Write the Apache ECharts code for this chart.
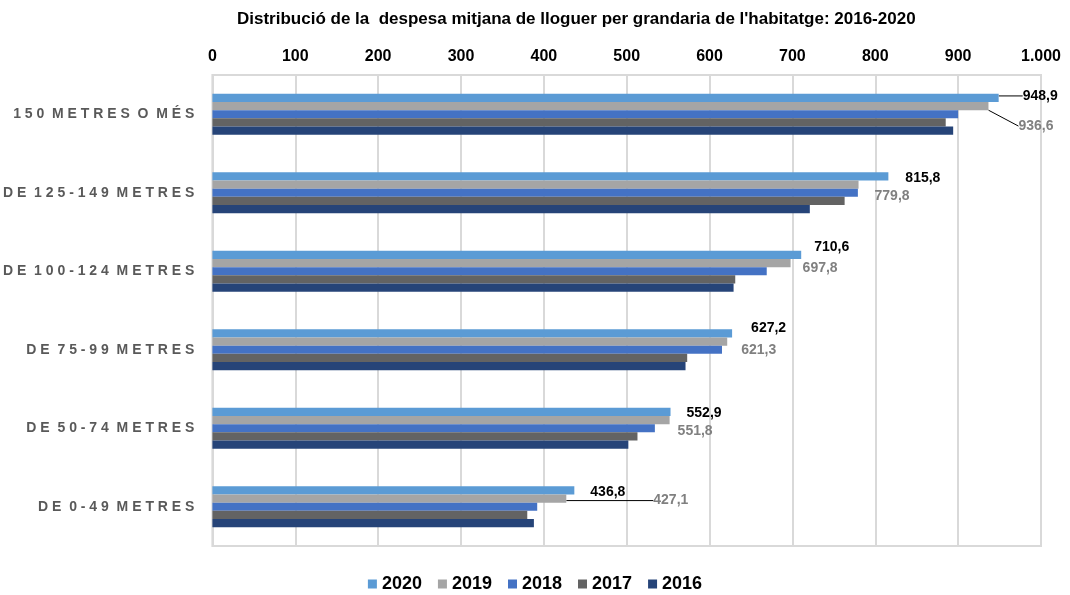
<!DOCTYPE html>
<html>
<head>
<meta charset="utf-8">
<script src="https://cdn.jsdelivr.net/npm/echarts@6/dist/echarts.min.js"></script>
<style>
  html, body { margin: 0; padding: 0; background: #fff; }
  #chart { width: 1070px; height: 595px; }
</style>
</head>
<body>
<div id="chart"></div>
<script>
const categories = ['150 METRES O MÉS', 'DE 125-149 METRES', 'DE 100-124 METRES', 'DE 75-99 METRES', 'DE 50-74 METRES', 'DE 0-49 METRES'];
const years = ['2020', '2019', '2018', '2017', '2016'];
const values2020 = [948.9, 815.8, 710.6, 627.2, 552.9, 436.8];
const values2019 = [936.6, 779.8, 697.8, 621.3, 551.8, 427.1];
const values2018 = [900, 779, 669, 615, 534, 392];
const values2017 = [885, 763, 631, 573, 513, 380];
const values2016 = [894, 721, 629, 571, 502, 388];

const colors = ['#5b9bd5', '#a5a5a5', '#4472c4', '#636363', '#264478'];
// label nudges (px) for the two labelled series
const labelShift = [
    [[19, -2], [12, 2], [8, -8], [14, -5], [11, 1], [11, 2]],
    [[25, 20], [11, 12], [7, 5], [9, 9], [3, 11], [82, 2]]
];
const withLeader = [[0], [0, 5]];

const fmtDec = v => v.toFixed(1).replace('.', ',');
const fmtThousands = v => String(v).replace(/\B(?=(\d{3})+(?!\d))/g, '.');
// Excel-like letter spacing on the category names
const spaced = s => s.split(' ').map(w => w.split('').join(' ')).join('  ');

const allValues = [values2020, values2019, values2018, values2017, values2016];

const chart = echarts.init(document.getElementById('chart'));

const series = years.map((y, i) => {
    const labelled = i < 2;
    return {
        name: y,
        type: 'bar',
        barGap: '0%',
        barCategoryGap: '48%',
        itemStyle: { color: colors[i] },
        data: allValues[i].map((v, j) => {
            const item = { value: v };
            if (labelled && withLeader[i].indexOf(j) >= 0) {
                item.labelLine = { show: true, lineStyle: { color: '#000', width: 1 } };
            }
            return item;
        }),
        label: {
            show: labelled,
            position: 'right',
            distance: 5,
            formatter: p => fmtDec(p.value),
            fontFamily: 'Liberation Sans, Arial, sans-serif',
            fontWeight: 'bold',
            fontSize: 14,
            color: i === 0 ? '#000' : '#808080'
        },
        labelLayout: labelled ? function (params) {
            const s = labelShift[i][params.dataIndex];
            return { dx: s[0], dy: s[1] };
        } : undefined
    };
});

const option = {
    animation: false,
    title: {
        text: "Distribució de la  despesa mitjana de lloguer per grandaria de l'habitatge: 2016-2020",
        left: 232,
        top: 6,
        textStyle: {
            fontFamily: 'Liberation Sans, Arial, sans-serif',
            fontSize: 17,
            fontWeight: 'bold',
            color: '#000'
        }
    },
    legend: {
        data: years,
        top: 570,
        left: 'center',
        itemWidth: 9,
        itemHeight: 9,
        itemGap: 16,
        icon: 'rect',
        textStyle: {
            fontFamily: 'Liberation Sans, Arial, sans-serif',
            fontSize: 18,
            fontWeight: 'bold',
            color: '#000'
        }
    },
    grid: {
        left: 212,
        right: 29,
        top: 75,
        bottom: 49,
        show: true,
        borderColor: '#d9d9d9',
        borderWidth: 2
    },
    xAxis: {
        type: 'value',
        position: 'top',
        min: 0,
        max: 1000,
        interval: 100,
        axisLine: { show: false },
        axisTick: { show: false },
        splitLine: { lineStyle: { color: '#d9d9d9', width: 2 } },
        axisLabel: {
            formatter: v => fmtThousands(v),
            margin: 10,
            fontFamily: 'Liberation Sans, Arial, sans-serif',
            fontSize: 16,
            fontWeight: 'bold',
            color: '#000'
        }
    },
    yAxis: {
        type: 'category',
        data: categories,
        inverse: true,
        axisLine: { show: false },
        axisTick: { show: false },
        axisLabel: {
            formatter: v => spaced(v),
            margin: 18,
            fontFamily: 'Liberation Sans, Arial, sans-serif',
            fontSize: 14,
            fontWeight: 'bold',
            color: '#595959'
        }
    },
    series: series
};

chart.setOption(option);
</script>
</body>
</html>
